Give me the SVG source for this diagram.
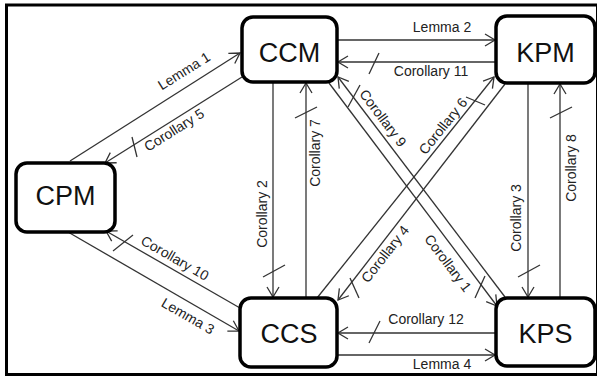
<svg xmlns="http://www.w3.org/2000/svg" width="597" height="378" viewBox="0 0 597 378">
<style>
.frame{fill:#fff;stroke:#000;stroke-width:3}
.box{fill:#fff;stroke:#000;stroke-width:3.5}
.nt{font-family:"Liberation Sans",Arial,sans-serif;font-size:27px;fill:#111;text-anchor:middle}
.lt{font-family:"Liberation Sans",Arial,sans-serif;font-size:14px;fill:#222;text-anchor:middle}
.c{stroke:#333;stroke-width:1.3;fill:none}
.a{marker-end:url(#ah)}
</style>
<defs>
<marker id="ah" viewBox="-11 -7 13 14" refX="0" refY="0" markerWidth="13" markerHeight="14" markerUnits="userSpaceOnUse" orient="auto">
<path d="M-10,-6 L0,0 L-10,6" fill="none" stroke="#333" stroke-width="1.3"/>
</marker>
</defs>
<rect class="frame" x="6.5" y="5" width="591" height="369.5"/>
<g id="connectors">
<line class="c a" x1="70" y1="161" x2="240" y2="53"/>
<line class="c a" x1="242" y1="77" x2="105" y2="163"/>
<line class="c a" x1="337" y1="40" x2="495" y2="40"/>
<line class="c a" x1="496" y1="62" x2="338" y2="62"/>
<line class="c a" x1="329" y1="83" x2="497" y2="306"/>
<line class="c a" x1="505" y1="297" x2="338" y2="77"/>
<line class="c a" x1="317" y1="298" x2="494" y2="77"/>
<line class="c a" x1="505" y1="84" x2="338" y2="300"/>
<line class="c a" x1="273" y1="82" x2="273" y2="297"/>
<line class="c a" x1="306" y1="298" x2="306" y2="83"/>
<line class="c a" x1="528" y1="83" x2="528" y2="297"/>
<line class="c a" x1="560" y1="298" x2="560" y2="84"/>
<line class="c a" x1="240" y1="308" x2="106" y2="231"/>
<line class="c a" x1="68" y1="232" x2="239" y2="331"/>
<line class="c a" x1="496" y1="333" x2="338" y2="333"/>
<line class="c a" x1="338" y1="355" x2="495" y2="355"/>
<g id="ticks">
<line class="c" x1="132" y1="137" x2="137" y2="157"/>
<line class="c" x1="369" y1="74" x2="379" y2="53"/>
<line class="c" x1="348" y1="107" x2="360" y2="85"/>
<line class="c" x1="466" y1="97" x2="485" y2="105"/>
<line class="c" x1="350" y1="278" x2="359" y2="298"/>
<line class="c" x1="475" y1="298" x2="485" y2="276"/>
<line class="c" x1="263" y1="277" x2="285" y2="265"/>
<line class="c" x1="295" y1="118" x2="317" y2="107"/>
<line class="c" x1="518" y1="277" x2="540" y2="265"/>
<line class="c" x1="550" y1="118" x2="572" y2="107"/>
<line class="c" x1="113" y1="251" x2="133" y2="235"/>
<line class="c" x1="369" y1="343" x2="380" y2="321"/>
</g>
<g id="labels">
<text class="lt" transform="translate(184,71) rotate(-32)" dy="0.35em">Lemma 1</text>
<text class="lt" transform="translate(174,130) rotate(-32)" dy="0.35em">Corollary 5</text>
<text class="lt" transform="translate(442,27)" dy="0.35em">Lemma 2</text>
<text class="lt" transform="translate(431,71)" dy="0.35em">Corollary 11</text>
<text class="lt" transform="translate(383,118) rotate(53)" dy="0.35em">Corollary 9</text>
<text class="lt" transform="translate(443,126) rotate(-51)" dy="0.35em">Corollary 6</text>
<text class="lt" transform="translate(385,254) rotate(-52)" dy="0.35em">Corollary 4</text>
<text class="lt" transform="translate(448,263) rotate(53)" dy="0.35em">Corollary 1</text>
<text class="lt" transform="translate(262,214) rotate(-90)" dy="0.35em">Corollary 2</text>
<text class="lt" transform="translate(315,153) rotate(-90)" dy="0.35em">Corollary 7</text>
<text class="lt" transform="translate(516,218) rotate(-90)" dy="0.35em">Corollary 3</text>
<text class="lt" transform="translate(571,168) rotate(-90)" dy="0.35em">Corollary 8</text>
<text class="lt" transform="translate(175,258) rotate(30)" dy="0.35em">Corollary 10</text>
<text class="lt" transform="translate(188,316) rotate(30)" dy="0.35em">Lemma 3</text>
<text class="lt" transform="translate(426,319)" dy="0.35em">Corollary 12</text>
<text class="lt" transform="translate(442,364)" dy="0.35em">Lemma 4</text>
</g>
</g>
<g id="CPM"><rect class="box" x="16" y="163" width="99" height="69" rx="11"/><text class="nt" x="65.5" y="205">CPM</text></g>
<g id="CCM"><rect class="box" x="242" y="17" width="95" height="65" rx="11"/><text class="nt" x="289.5" y="62">CCM</text></g>
<g id="KPM"><rect class="box" x="496" y="16" width="99" height="67" rx="11"/><text class="nt" x="545.5" y="62">KPM</text></g>
<g id="CCS"><rect class="box" x="240" y="298" width="97" height="69" rx="11"/><text class="nt" x="289" y="343">CCS</text></g>
<g id="KPS"><rect class="box" x="496" y="298" width="99" height="68" rx="11"/><text class="nt" x="545.5" y="343">KPS</text></g>
</svg>
